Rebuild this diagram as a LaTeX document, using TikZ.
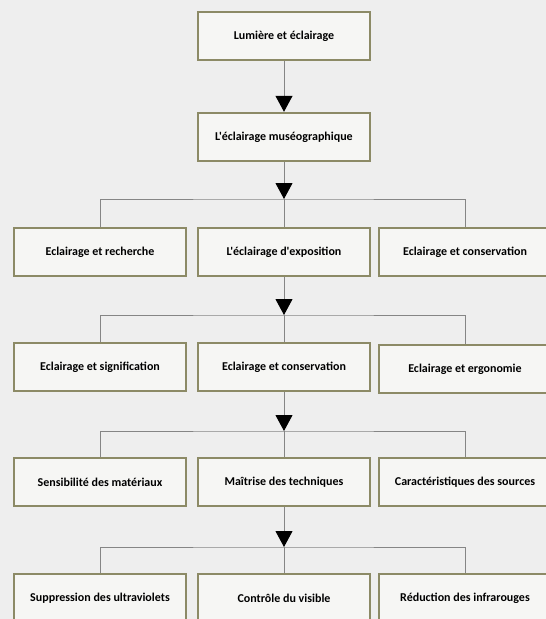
\documentclass[tikz,border=0pt]{standalone}
\usepackage{fontspec}
\newfontfamily\carlito{Carlito}
\usetikzlibrary{arrows.meta}
\definecolor{papier}{HTML}{EEEEEE}
\definecolor{fond}{HTML}{F6F6F4}
\definecolor{bordure}{HTML}{8C8A66}
\definecolor{trait}{HTML}{858585}
\begin{document}
\begin{tikzpicture}[x=1pt,y=-1pt,
        cadre/.style={draw=bordure,line width=2.4pt,fill=fond,minimum width=172pt,minimum height=48pt,inner sep=0pt,font=\fontsize{12}{14}\carlito\bfseries},
        lien/.style={draw=trait,line width=1pt},
        fleche/.style={lien,-{Triangle[width=17pt,length=16pt,color=black,fill=black]}}]
        \useasboundingbox (0,0) rectangle (546,619);
        \fill[papier] (0,0) rectangle (546,619);
        \clip (0,0) rectangle (546,619);
        \node[cadre] (lumiere) at (284,36) {Lumière et éclairage};
        \node[cadre] (museo) at (284,137) {L'éclairage muséographique};
        \node[cadre] (recherche) at (100,252) {Eclairage et recherche};
        \node[cadre] (exposition) at (284,252) {L'éclairage d'exposition};
        \node[cadre] (conservA) at (465,252) {Eclairage et conservation};
        \node[cadre] (signification) at (100,367) {Eclairage et signification};
        \node[cadre] (conservB) at (284,367) {Eclairage et conservation};
        \node[cadre] (ergonomie) at (465,369) {Eclairage et ergonomie};
        \node[cadre] (materiaux) at (100,482) {Sensibilité des matériaux};
        \node[cadre] (techniques) at (284,482) {Maîtrise des techniques};
        \node[cadre] (sources) at (465,482) {Caractéristiques des sources};
        \node[cadre] (ultraviolets) at (100,598) {Suppression des ultraviolets};
        \node[cadre] (visible) at (284,598) {Contrôle du visible};
        \node[cadre] (infrarouges) at (465,598) {Réduction des infrarouges};
        \coordinate (bus1) at (284,199);
        \coordinate (bus2) at (284,315);
        \coordinate (bus3) at (284,431);
        \coordinate (bus4) at (284,547);
        \draw[fleche] (lumiere) -- (museo);
        % premier niveau
        \draw[fleche] (museo) -- (bus1);
        \draw[lien] (bus1) -- (exposition);
        \draw[lien] (recherche.north) |- (bus1) -| (conservA.north);
        % deuxieme niveau
        \draw[fleche] (exposition) -- (bus2);
        \draw[lien] (bus2) -- (conservB);
        \draw[lien] (signification.north) |- (bus2) -| (ergonomie.north);
        % troisieme niveau
        \draw[fleche] (conservB) -- (bus3);
        \draw[lien] (bus3) -- (techniques);
        \draw[lien] (materiaux.north) |- (bus3) -| (sources.north);
        % quatrieme niveau
        \draw[fleche] (techniques) -- (bus4);
        \draw[lien] (bus4) -- (visible);
        \draw[lien] (ultraviolets.north) |- (bus4) -| (infrarouges.north);
\end{tikzpicture}
\end{document}
